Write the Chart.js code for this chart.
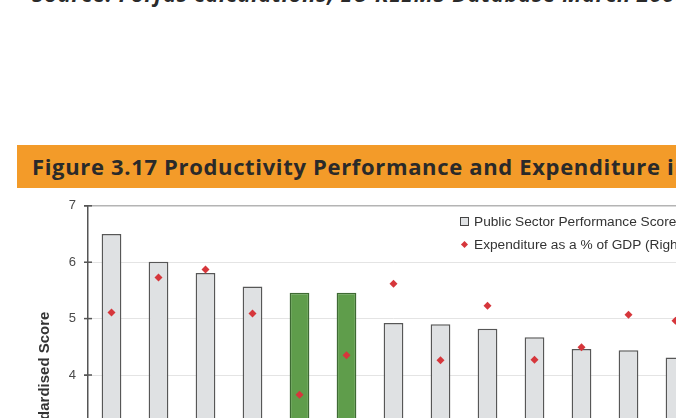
<!DOCTYPE html>
<html>
<head>
<meta charset="utf-8">
<script src="https://cdn.jsdelivr.net/npm/chart.js@4"></script>
<style>
    html, body { margin: 0; padding: 0; width: 676px; height: 418px; overflow: hidden; background: #ffffff; }
    .source { position: absolute; left: 32px; top: -17px; font: italic bold 22px 'Open Sans', sans-serif; letter-spacing: 0.6px; color: #2a2a2a; white-space: nowrap; line-height: 20px; }
    .banner { position: absolute; left: 17px; top: 145px; width: 700px; height: 43px; background: #f39b29; }
    .banner span { position: absolute; left: 15px; top: 6px; font: bold 22px 'Open Sans', sans-serif; letter-spacing: 0.66px; color: #2a2a2a; white-space: nowrap; }
    .wrap { position: absolute; left: 0; top: 190px; width: 739px; height: 370px; }
    .legend { position: absolute; left: 460px; top: 212px; font: 13.7px 'Liberation Sans', Arial, sans-serif; color: #333; white-space: nowrap; }
    .legend div { height: 23px; line-height: 20px; }
    .box { display: inline-block; width: 7px; height: 7px; border: 1px solid #444; background: #e0e2e4; margin-right: 5px; }
    .dia { display: inline-block; width: 5px; height: 5px; background: #d6363b; transform: rotate(45deg); margin: 0 7px 1px 2px; vertical-align: 1px; }
</style>
</head>
<body>
<div class="source">Source: Forfás calculations, EU KLEMS Database March 2008</div>
<div class="banner"><span>Figure 3.17 Productivity Performance and Expenditure in Education</span></div>
<div class="wrap"><canvas id="scoreChart"></canvas></div>
<div class="legend">
    <div><span class="box"></span>Public Sector Performance Score</div>
    <div><span class="dia"></span>Expenditure as a % of GDP (Right Axis)</div>
</div>
<script>
const scoreChart = document.getElementById('scoreChart').getContext('2d');

const countries = ['1', '2', '3', '4', '5', '6', '7', '8', '9', '10', '11', '12', '13'];
const performanceScore = [6.50, 6.01, 5.81, 5.57, 5.46, 5.46, 4.92, 4.90, 4.82, 4.67, 4.46, 4.44, 4.31];
const expenditure = [5.11, 5.73, 5.87, 5.09, 3.65, 4.35, 5.62, 4.26, 5.23, 4.27, 4.49, 5.07, 4.96];
const highlighted = [4, 5];

Chart.defaults.font.family = "'Liberation Sans', Arial, sans-serif";

const barFill = countries.map((c, i) => highlighted.includes(i) ? '#5f9d4b' : '#dfe1e3');
const barEdge = countries.map((c, i) => highlighted.includes(i) ? '#3e6a33' : '#575757');

// small tick marks crossing the left axis + axis title
const axisExtras = {
    id: 'axisExtras',
    afterDraw(chart) {
        const { ctx, chartArea } = chart;
        const y = chart.scales.y;
        ctx.save();
        ctx.strokeStyle = '#555';
        ctx.lineWidth = 1.5;
        y.ticks.forEach(t => {
            const py = y.getPixelForValue(t.value);
            ctx.beginPath();
            ctx.moveTo(chartArea.left - 4, py);
            ctx.lineTo(chartArea.left + 4, py);
            ctx.stroke();
        });
        ctx.translate(chartArea.left - 43, (chartArea.top + chartArea.bottom) / 2 + 7);
        ctx.rotate(-Math.PI / 2);
        ctx.font = "bold 15px 'Liberation Sans', Arial, sans-serif";
        ctx.fillStyle = '#333';
        ctx.textAlign = 'center';
        ctx.textBaseline = 'middle';
        ctx.fillText('Standardised Score', 0, 0);
        ctx.restore();
    }
};

new Chart(scoreChart, {
    type: 'bar',
    data: {
        labels: countries,
        datasets: [{
            label: 'Expenditure as a % of GDP (Right Axis)',
            type: 'line',
            data: expenditure,
            yAxisID: 'y2',
            showLine: false,
            pointStyle: 'rectRot',
            pointRadius: 4,
            pointBackgroundColor: '#d6363b',
            pointBorderColor: '#d6363b',
            pointBorderWidth: 0
        },
        {
            label: 'Public Sector Performance Score',
            data: performanceScore,
            yAxisID: 'y',
            backgroundColor: barFill,
            borderColor: barEdge,
            borderWidth: 1.5,
            barPercentage: 0.42,
            categoryPercentage: 1
        }]
    },
    plugins: [axisExtras],
    options: {
        responsive: true,
        maintainAspectRatio: false,
        animation: false,
        layout: {
            padding: { top: 14, bottom: 12, left: 0, right: 40 }
        },
        plugins: {
            legend: { display: false },
            tooltip: { enabled: false }
        },
        scales: {
            x: {
                display: false
            },
            y: {
                min: 1,
                max: 7,
                afterFit(scale) { scale.width = 88; },
                border: { color: '#555', width: 1.5 },
                grid: {
                    color: (c) => c.tick && c.tick.value === 7 ? '#b4b4b4' : '#e4e4e4',
                    lineWidth: (c) => c.tick && c.tick.value === 7 ? 1.5 : 1,
                    tickLength: 4,
                    tickColor: '#555'
                },
                ticks: {
                    stepSize: 1,
                    color: '#4a4a4a',
                    padding: 8,
                    font: { size: 13 }
                }
            },
            y2: {
                display: false,
                position: 'right',
                min: 1,
                max: 7
            }
        }
    }
});
</script>
</body>
</html>
